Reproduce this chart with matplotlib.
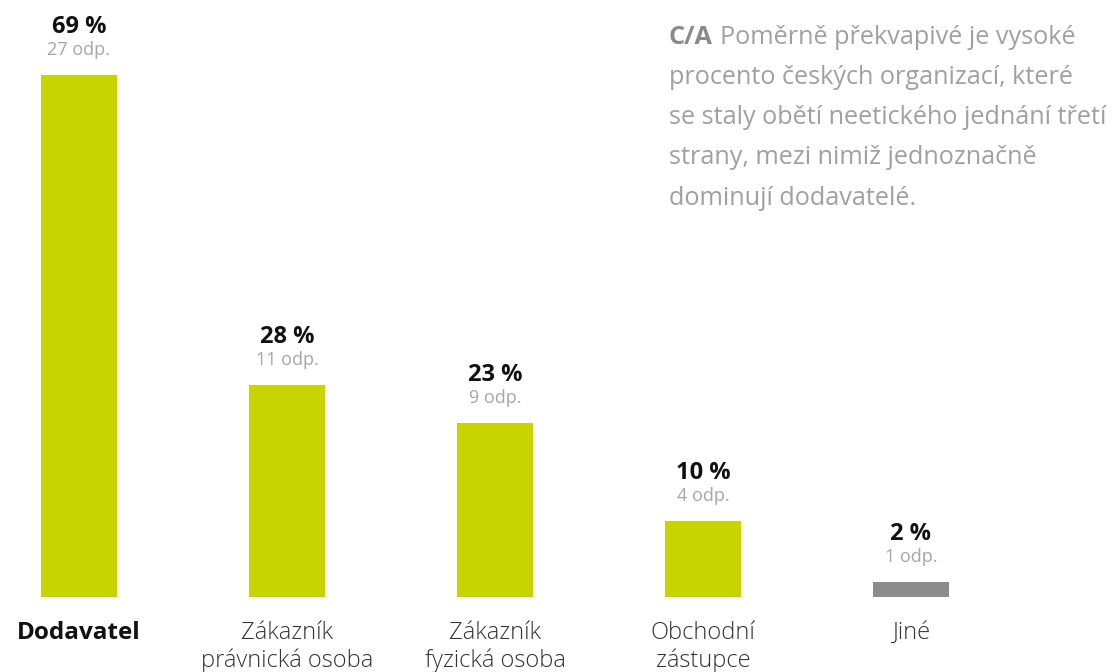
import matplotlib.pyplot as plt

plt.rcParams['font.family'] = ['Open Sans', 'DejaVu Sans']

categories = ['Dodavatel', 'Zákazník\nprávnická osoba', 'Zákazník\nfyzická osoba',
              'Obchodní\nzástupce', 'Jiné']
percent = [69, 28, 23, 10, 2]
answers = [27, 11, 9, 4, 1]
colors = ['#c8d400', '#c8d400', '#c8d400', '#c8d400', '#8c8c8c']

note_head = 'C/A'
note_lines = ['Poměrně překvapivé je vysoké',
              'procento českých organizací, které',
              'se staly obětí neetického jednání třetí',
              'strany, mezi nimiž jednoznačně',
              'dominují dodavatelé.']

W, H = 1118, 672
fig = plt.figure(figsize=(W / 100, H / 100), dpi=100)
ax = fig.add_axes([0, 0, 1, 1])

# pixel layout: first bar centre at 79 px, 208 px apart, baseline at y=597
px_step = 208
px_per_pct = 522 / 69
ax.set_xlim(-79 / px_step, (W - 79) / px_step)
ax.set_ylim(-(H - 597) / px_per_pct, 597 / px_per_pct)
ax.axis('off')

idx = range(len(categories))
ax.bar(idx, percent, width=76 / px_step, color=colors)

for i, (p, n) in enumerate(zip(percent, answers)):
    ax.annotate(f'{p} %', (i, p), xytext=(0, 48 * 0.72), textcoords='offset points',
                ha='center', va='center', fontsize=17, fontweight='bold', color='#111111')
    ax.annotate(f'{n} odp.', (i, p), xytext=(0, 25 * 0.72), textcoords='offset points',
                ha='center', va='center', fontsize=13, color='#a6a6a6')

label_y = -(621 - 597) / px_per_pct
for i, c in enumerate(categories):
    bold = i == 0
    ax.text(i, label_y, c, ha='center', va='top',
            fontsize=17.5 if bold else 17, fontweight='bold' if bold else 'light',
            color='#111111' if bold else '#333333', linespacing=1.2)

fig.canvas.draw()
r = fig.canvas.get_renderer()
y0 = 38
head = fig.text(669 / W, 1 - y0 / H, note_head, ha='left', va='center',
                fontsize=18.2, fontweight='bold', color='#8a8a8a')
bb = head.get_window_extent(renderer=r)
for k, line in enumerate(note_lines):
    x = (bb.x1 + 7) / W if k == 0 else 669 / W
    fig.text(x, 1 - (y0 + k * 40) / H, line, ha='left', va='center',
             fontsize=18.2, color='#a0a0a0')

fig.savefig('out.png', dpi=100)
